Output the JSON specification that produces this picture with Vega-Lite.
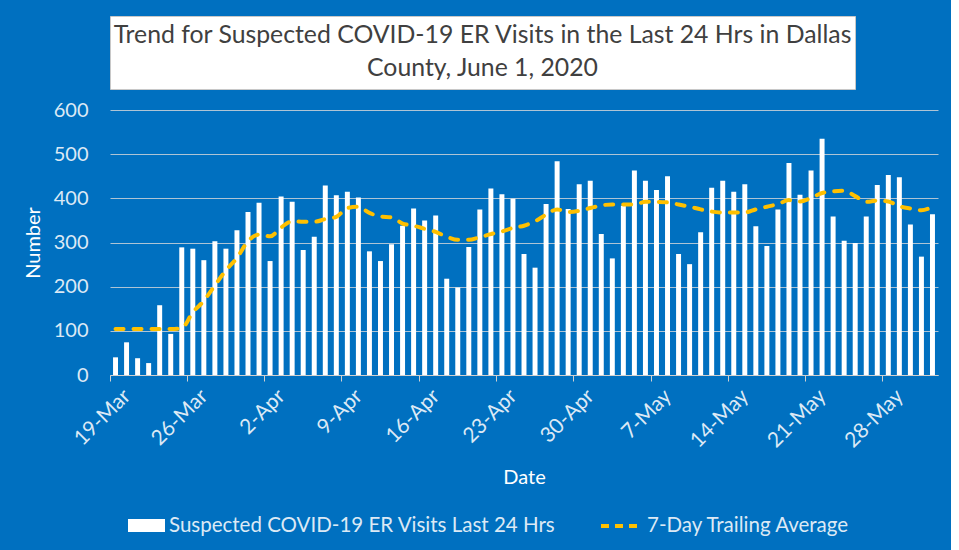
{
  "$schema": "https://vega.github.io/schema/vega-lite/v6.json",
  "background": "#0070C0",
  "padding": {"top": 15, "left": 23, "right": 10, "bottom": 60},
  "bounds": "flush",
  "spacing": 21,
  "config": {
    "font": "Lato",
    "view": {"stroke": null},
    "legend": {"orient": "none", "labelFontSize": 20.5, "labelColor": "#dce9f5", "labelFont": "Lato", "labelLimit": 0, "title": null}
  },
  "datasets": {
    "ttl": [
      {"line": 1, "t": "Trend for Suspected COVID-19 ER Visits in the Last 24 Hrs in Dallas"},
      {"line": 2, "t": "County, June 1, 2020"}
    ],
    "er": [
      {"d": "19-Mar", "visits": 40, "avg": 104},
      {"d": "20-Mar", "visits": 74, "avg": 104},
      {"d": "21-Mar", "visits": 38, "avg": 104},
      {"d": "22-Mar", "visits": 27, "avg": 104},
      {"d": "23-Mar", "visits": 158, "avg": 104},
      {"d": "24-Mar", "visits": 93, "avg": 104},
      {"d": "25-Mar", "visits": 289, "avg": 106},
      {"d": "26-Mar", "visits": 286, "avg": 142},
      {"d": "27-Mar", "visits": 260, "avg": 168},
      {"d": "28-Mar", "visits": 303, "avg": 203},
      {"d": "29-Mar", "visits": 286, "avg": 237},
      {"d": "30-Mar", "visits": 328, "avg": 265},
      {"d": "31-Mar", "visits": 369, "avg": 303},
      {"d": "1-Apr", "visits": 390, "avg": 318},
      {"d": "2-Apr", "visits": 258, "avg": 314},
      {"d": "3-Apr", "visits": 404, "avg": 334},
      {"d": "4-Apr", "visits": 392, "avg": 348},
      {"d": "5-Apr", "visits": 283, "avg": 347},
      {"d": "6-Apr", "visits": 313, "avg": 347},
      {"d": "7-Apr", "visits": 429, "avg": 353},
      {"d": "8-Apr", "visits": 407, "avg": 358},
      {"d": "9-Apr", "visits": 415, "avg": 378},
      {"d": "10-Apr", "visits": 402, "avg": 381},
      {"d": "11-Apr", "visits": 280, "avg": 367},
      {"d": "12-Apr", "visits": 258, "avg": 359},
      {"d": "13-Apr", "visits": 296, "avg": 357},
      {"d": "14-Apr", "visits": 338, "avg": 343},
      {"d": "15-Apr", "visits": 377, "avg": 338},
      {"d": "16-Apr", "visits": 350, "avg": 331},
      {"d": "17-Apr", "visits": 361, "avg": 324},
      {"d": "18-Apr", "visits": 218, "avg": 313},
      {"d": "19-Apr", "visits": 198, "avg": 306},
      {"d": "20-Apr", "visits": 290, "avg": 306},
      {"d": "21-Apr", "visits": 375, "avg": 312},
      {"d": "22-Apr", "visits": 422, "avg": 319},
      {"d": "23-Apr", "visits": 409, "avg": 325},
      {"d": "24-Apr", "visits": 399, "avg": 333},
      {"d": "25-Apr", "visits": 274, "avg": 338},
      {"d": "26-Apr", "visits": 243, "avg": 348},
      {"d": "27-Apr", "visits": 387, "avg": 363},
      {"d": "28-Apr", "visits": 484, "avg": 375},
      {"d": "29-Apr", "visits": 376, "avg": 369},
      {"d": "30-Apr", "visits": 432, "avg": 372},
      {"d": "1-May", "visits": 440, "avg": 378},
      {"d": "2-May", "visits": 319, "avg": 384},
      {"d": "3-May", "visits": 264, "avg": 386},
      {"d": "4-May", "visits": 383, "avg": 386},
      {"d": "5-May", "visits": 463, "avg": 386},
      {"d": "6-May", "visits": 440, "avg": 392},
      {"d": "7-May", "visits": 419, "avg": 392},
      {"d": "8-May", "visits": 450, "avg": 391},
      {"d": "9-May", "visits": 274, "avg": 386},
      {"d": "10-May", "visits": 251, "avg": 381},
      {"d": "11-May", "visits": 323, "avg": 375},
      {"d": "12-May", "visits": 424, "avg": 370},
      {"d": "13-May", "visits": 440, "avg": 368},
      {"d": "14-May", "visits": 415, "avg": 368},
      {"d": "15-May", "visits": 432, "avg": 368},
      {"d": "16-May", "visits": 337, "avg": 375},
      {"d": "17-May", "visits": 292, "avg": 381},
      {"d": "18-May", "visits": 375, "avg": 387},
      {"d": "19-May", "visits": 480, "avg": 396},
      {"d": "20-May", "visits": 408, "avg": 393},
      {"d": "21-May", "visits": 463, "avg": 401},
      {"d": "22-May", "visits": 535, "avg": 412},
      {"d": "23-May", "visits": 359, "avg": 416},
      {"d": "24-May", "visits": 304, "avg": 417},
      {"d": "25-May", "visits": 299, "avg": 405},
      {"d": "26-May", "visits": 359, "avg": 392},
      {"d": "27-May", "visits": 430, "avg": 395},
      {"d": "28-May", "visits": 453, "avg": 393},
      {"d": "29-May", "visits": 448, "avg": 382},
      {"d": "30-May", "visits": 341, "avg": 377},
      {"d": "31-May", "visits": 268, "avg": 373},
      {"d": "1-Jun", "visits": 364, "avg": 381}
    ]
  },
  "vconcat": [
    {
      "width": 745,
      "height": 73,
      "view": {"fill": "white", "stroke": "#c8c8c8"},
      "data": {"name": "ttl"},
      "mark": {"type": "text", "fontSize": 24.8, "color": "#404040", "baseline": "middle", "font": "Lato"},
      "encoding": {
        "y": {"field": "line", "type": "ordinal", "axis": null, "scale": {"padding": 0.6}},
        "text": {"field": "t"}
      }
    },
    {
      "width": 828,
      "height": 265,
      "data": {"name": "er"},
      "encoding": {
        "x": {
          "field": "d",
          "type": "ordinal",
          "sort": null,
          "scale": {"paddingInner": 0.55},
          "axis": {
            "values": ["19-Mar", "26-Mar", "2-Apr", "9-Apr", "16-Apr", "23-Apr", "30-Apr", "7-May", "14-May", "21-May", "28-May"],
            "labelAngle": -45,
            "labelFontSize": 21,
            "labelColor": "#dce9f5",
            "labelPadding": 4,
            "tickColor": "#d0d0d0",
            "tickSize": 6,
            "domainColor": "#d0d0d0",
            "grid": false,
            "bandPosition": -0.6,
            "labelOffset": 4,
            "title": "Date",
            "titleColor": "white",
            "titleFontSize": 20,
            "titleFontWeight": "normal",
            "titlePadding": 16
          }
        }
      },
      "layer": [
        {
          "mark": {"type": "bar"},
          "encoding": {
            "y": {
              "field": "visits",
              "type": "quantitative",
              "scale": {"domain": [0, 600]},
              "axis": {
                "values": [0, 100, 200, 300, 400, 500, 600],
                "title": "Number",
                "titleColor": "white",
                "titleFontSize": 20,
                "titleFontWeight": "normal",
                "titlePadding": 10,
                "labelFontSize": 20,
                "labelColor": "#dce9f5",
                "labelPadding": 22,
                "ticks": false,
                "tickSize": 0,
                "domain": false,
                "gridColor": "#d9d9d9",
                "gridOpacity": 0.8
              }
            },
            "fill": {
              "datum": "Suspected COVID-19 ER Visits Last 24 Hrs",
              "scale": {"range": ["white"]},
              "legend": {
                "legendX": 18,
                "legendY": 491,
                "symbolType": "M-1,-0.35L1,-0.35L1,0.35L-1,0.35Z",
                "symbolSize": 1369,
                "symbolStrokeWidth": 0,
                "labelOffset": 4
              }
            }
          }
        },
        {
          "mark": {"type": "line", "interpolate": "monotone", "strokeWidth": 4, "strokeDash": [8, 10], "strokeCap": "round"},
          "encoding": {
            "y": {"field": "avg", "type": "quantitative", "title": "Number"},
            "stroke": {
              "datum": "7-Day Trailing Average",
              "scale": {"range": ["#FFC000"]},
              "legend": {
                "legendX": 489,
                "legendY": 488,
                "symbolType": "stroke",
                "symbolSize": 1600,
                "symbolStrokeWidth": 4,
                "symbolDash": [8, 6],
                "labelOffset": 4
              }
            }
          }
        }
      ]
    }
  ]
}
